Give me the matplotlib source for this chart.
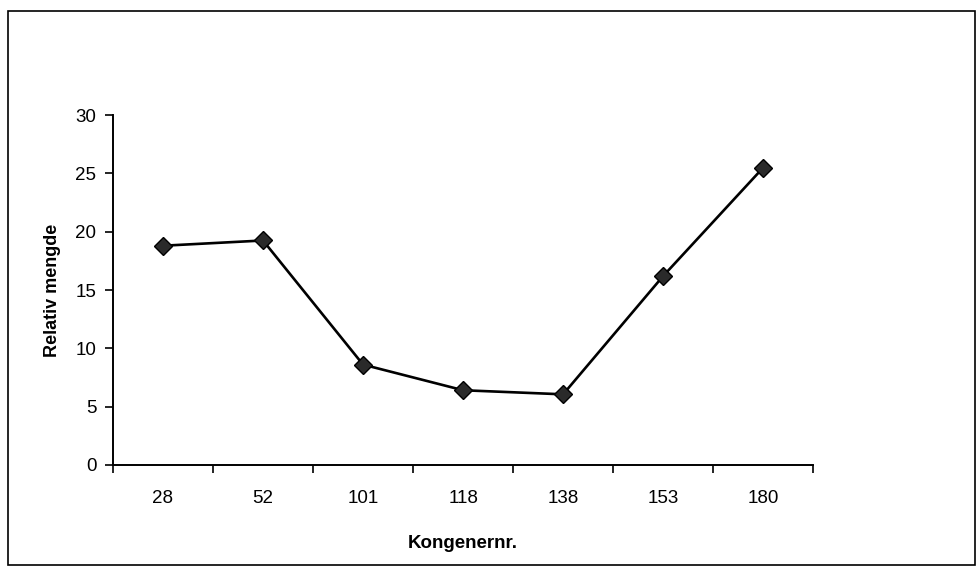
import matplotlib.pyplot as plt
from matplotlib.patches import Rectangle

# data
kongener = ["28", "52", "101", "118", "138", "153", "180"]
relativ_mengde = [18.8, 19.25, 8.6, 6.4, 6.05, 16.2, 25.5]
y_ticks = [0, 5, 10, 15, 20, 25, 30]

plt.rcParams['font.family'] = ['Liberation Sans', 'DejaVu Sans']

fig = plt.figure(figsize=(9.78, 5.76), dpi=100)
ax = fig.add_axes([0.1155, 0.193, 0.716, 0.607])

x = list(range(len(kongener)))
ax.plot(x, relativ_mengde, color="black", lw=1.9, marker="D", markersize=9,
        markerfacecolor="#2a2a2a", markeredgecolor="black", markeredgewidth=1)

ax.set_xlim(-0.5, len(kongener) - 0.5)
ax.set_ylim(0, 30)
ax.set_yticks(y_ticks)
ax.set_xticks(x)
ax.set_xticklabels(kongener)
# tick marks sit between the categories
ax.set_xticks([i - 0.5 for i in range(len(kongener) + 1)], minor=True)
ax.tick_params(axis="x", which="major", length=0, pad=18, labelsize=13.5)
ax.tick_params(axis="x", which="minor", length=6, width=1.2, direction="out")
ax.tick_params(axis="y", length=6, width=1.2, direction="out", labelsize=13.5, pad=6)

for s in ["top", "right"]:
    ax.spines[s].set_visible(False)
for s in ["left", "bottom"]:
    ax.spines[s].set_linewidth(1.4)

ax.set_ylabel("Relativ mengde", fontsize=13, fontweight="bold", labelpad=10)
ax.set_xlabel("Kongenernr.", fontsize=13.5, fontweight="bold", labelpad=20)

# frame around the whole chart
fig.patches.append(Rectangle((8 / 978, 11 / 576), 967 / 978, 554 / 576,
                             transform=fig.transFigure, fill=False,
                             edgecolor="black", lw=1.2))

fig.savefig("out.png", dpi=100)
